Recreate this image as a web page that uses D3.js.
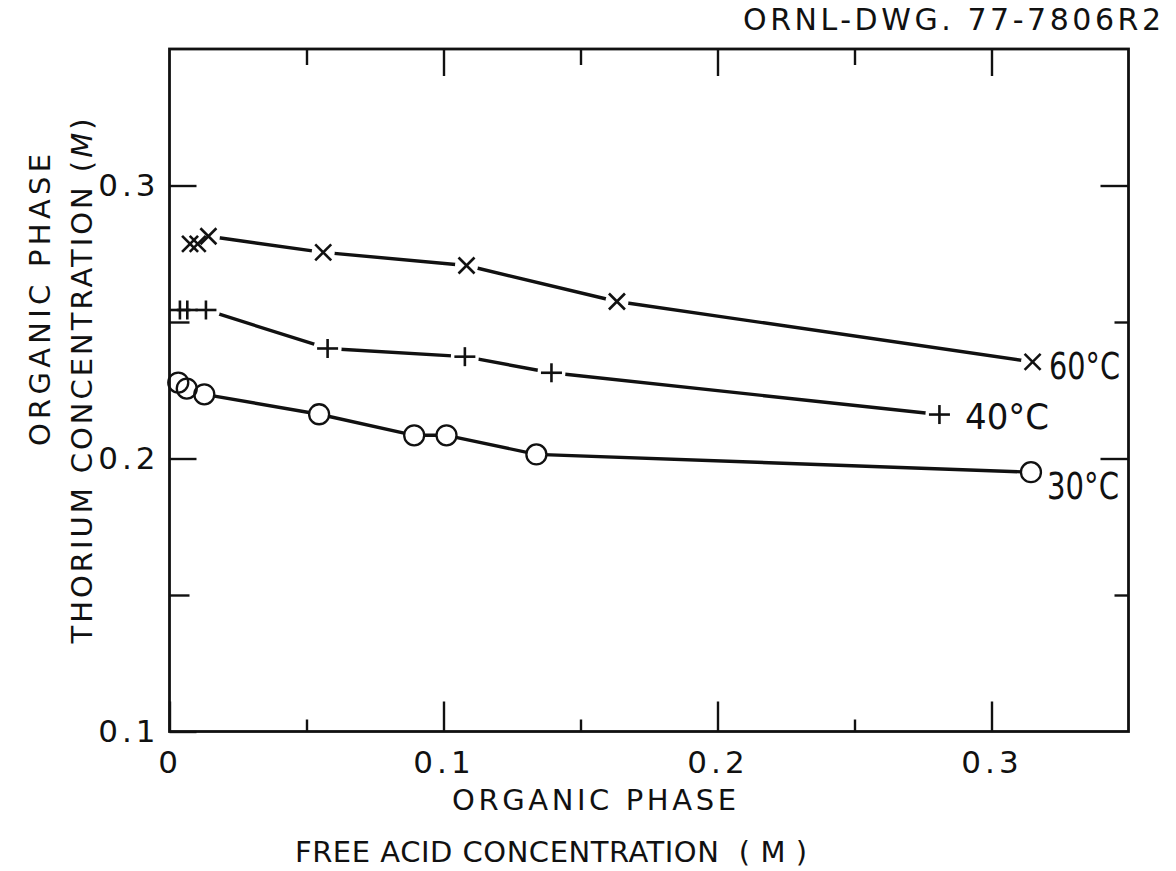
<!DOCTYPE html>
<html><head><meta charset="utf-8">
<script src="https://cdn.jsdelivr.net/npm/d3@7"></script>
<style>body{margin:0;background:#fff} svg{display:block} text{white-space:pre}</style>
</head><body>
<svg id="chart" width="1176" height="871"></svg>
<script>
// Axis ticks and their labels
const xMajor = [0, 0.1, 0.2, 0.3];
const xMinor = [0.05, 0.15, 0.25];
const xTickLabels = ["0", "0.1", "0.2", "0.3"];
const yMajor = [0.1, 0.2, 0.3];
const yMinor = [0.15, 0.25];
const yTickLabels = ["0.1", "0.2", "0.3"];

// Free acid (M) vs. thorium (M), organic phase, at three temperatures
const acid60 = [0.0075, 0.0103, 0.0142, 0.0561, 0.1084, 0.1633, 0.3150];
const thor60 = [0.2786, 0.2786, 0.2814, 0.2755, 0.2707, 0.2575, 0.2354];
const acid40 = [0.0038, 0.0065, 0.0133, 0.0577, 0.1078, 0.1394, 0.2810];
const thor40 = [0.2544, 0.2544, 0.2544, 0.2403, 0.2373, 0.2314, 0.2161];
const acid30 = [0.0032, 0.0063, 0.0127, 0.0546, 0.0893, 0.1011, 0.1339, 0.3144];
const thor30 = [0.2278, 0.2256, 0.2235, 0.2162, 0.2085, 0.2085, 0.2015, 0.1950];
const seriesNames = ["60°C", "40°C", "30°C"];

const FONT = "'DejaVu Sans', 'Liberation Sans', sans-serif";
const INK = "#111";
const svg = d3.select("#chart");
const L = 169.5, R = 1128.5, T = 49, B = 731.5;

const x = d3.scaleLinear().domain([0, 0.35]).range([L, R]);
const y = d3.scaleLinear().domain([0.1, 0.35]).range([B, T]);

// Curves
const series = [
  {xs: acid60, ys: thor60, mark: "x", halo: 11.5},
  {xs: acid40, ys: thor40, mark: "+", halo: 14},
  {xs: acid30, ys: thor30, mark: "o", halo: 10}
];
const line = d3.line().x(d => x(d[0])).y(d => y(d[1]));
series.forEach(s => {
  const pts = s.xs.map((v, i) => [v, s.ys[i]]);
  svg.append("path").datum(pts).attr("d", line).attr("fill", "none")
    .attr("stroke", INK).attr("stroke-width", 3.4).attr("stroke-linejoin", "round");
});
// white clearance around markers so the lines stop short of them
series.forEach(s => {
  s.xs.forEach((v, i) => {
    svg.append("circle").attr("cx", x(v)).attr("cy", y(s.ys[i])).attr("r", s.halo).attr("fill", "#fff");
  });
});
series.forEach(s => {
  s.xs.forEach((v, i) => {
    const cx = x(v), cy = y(s.ys[i]);
    const g = svg.append("g").attr("stroke", INK).attr("stroke-width", 2.6).attr("fill", "none");
    if (s.mark === "x") {
      const h = 8;
      g.append("line").attr("x1", cx - h).attr("y1", cy - h).attr("x2", cx + h).attr("y2", cy + h);
      g.append("line").attr("x1", cx - h).attr("y1", cy + h).attr("x2", cx + h).attr("y2", cy - h);
    } else if (s.mark === "+") {
      g.append("line").attr("x1", cx - 10.5).attr("y1", cy).attr("x2", cx + 10.5).attr("y2", cy);
      g.append("line").attr("x1", cx).attr("y1", cy - 9.5).attr("x2", cx).attr("y2", cy + 9.5);
    } else {
      g.append("circle").attr("cx", cx).attr("cy", cy).attr("r", 10).attr("stroke-width", 2.3);
    }
  });
});

// Frame
svg.append("rect").attr("x", L).attr("y", T).attr("width", R - L).attr("height", B - T)
  .attr("fill", "none").attr("stroke", INK).attr("stroke-width", 2.8);

function styleAxis(g) {
  g.select(".domain").remove();
  g.selectAll(".tick line").attr("stroke", INK).attr("stroke-width", 2.4);
  g.selectAll(".tick text").attr("fill", INK).attr("font-family", FONT)
    .attr("font-size", 31).attr("letter-spacing", 4);
}
const noLabel = () => "";

svg.append("g").attr("transform", `translate(0,${B})`)
  .call(d3.axisBottom(x).tickValues(xMajor).tickSize(-30).tickPadding(19)
    .tickFormat((d, i) => xTickLabels[i])).call(styleAxis);
svg.append("g").attr("transform", `translate(0,${B})`)
  .call(d3.axisBottom(x).tickValues(xMinor).tickSize(-12).tickFormat(noLabel)).call(styleAxis);
svg.append("g").attr("transform", `translate(0,${T})`)
  .call(d3.axisTop(x).tickValues(xMajor.slice(1)).tickSize(-27).tickFormat(noLabel)).call(styleAxis);
svg.append("g").attr("transform", `translate(0,${T})`)
  .call(d3.axisTop(x).tickValues(xMinor).tickSize(-16).tickFormat(noLabel)).call(styleAxis);
svg.append("g").attr("transform", `translate(${L},0)`)
  .call(d3.axisLeft(y).tickValues(yMajor).tickSize(-27).tickPadding(10)
    .tickFormat((d, i) => yTickLabels[i])).call(styleAxis);
svg.append("g").attr("transform", `translate(${L},0)`)
  .call(d3.axisLeft(y).tickValues(yMinor).tickSize(-20).tickFormat(noLabel)).call(styleAxis);
svg.append("g").attr("transform", `translate(${R},0)`)
  .call(d3.axisRight(y).tickValues(yMajor.slice(1)).tickSize(-28).tickFormat(noLabel)).call(styleAxis);
svg.append("g").attr("transform", `translate(${R},0)`)
  .call(d3.axisRight(y).tickValues(yMinor).tickSize(-14).tickFormat(noLabel)).call(styleAxis);

// Titles
function label(txt, px, py, size, len, opts = {}) {
  const t = svg.append("text").attr("x", px).attr("y", py)
    .attr("font-family", FONT).attr("font-size", size).attr("fill", INK)
    .attr("text-anchor", opts.anchor || "start");
  if (opts.rotate) t.attr("transform", `rotate(-90,${px},${py})`);
  if (len) t.attr("textLength", len).attr("lengthAdjust", opts.adjust || "spacing");
  t.text(txt);
  return t;
}
label("ORNL-DWG. 77-7806R2", 743, 30, 30, 418);
label("ORGANIC PHASE", 594, 810, 29, 284, {anchor: "middle"});
label("FREE ACID CONCENTRATION  ( M )", 551, 862, 29, 512, {anchor: "middle"});
label("ORGANIC PHASE", 50, 300, 29, 292, {anchor: "middle", rotate: true});
const yt = svg.append("text").attr("x", 92).attr("y", 381)
  .attr("font-family", FONT).attr("font-size", 29).attr("fill", INK)
  .attr("text-anchor", "middle").attr("transform", "rotate(-90,92,381)")
  .attr("textLength", 525).attr("lengthAdjust", "spacing");
yt.append("tspan").text("THORIUM CONCENTRATION (");
yt.append("tspan").attr("font-style", "italic").text("M");
yt.append("tspan").text(")");

// Temperature labels beside the last point of each curve
label(seriesNames[0], 1049, 379, 38, 71, {adjust: "spacingAndGlyphs"});
label(seriesNames[1], 965, 429, 36, 84, {adjust: "spacingAndGlyphs"});
label(seriesNames[2], 1047, 499, 37, 72, {adjust: "spacingAndGlyphs"});
</script>
</body></html>
